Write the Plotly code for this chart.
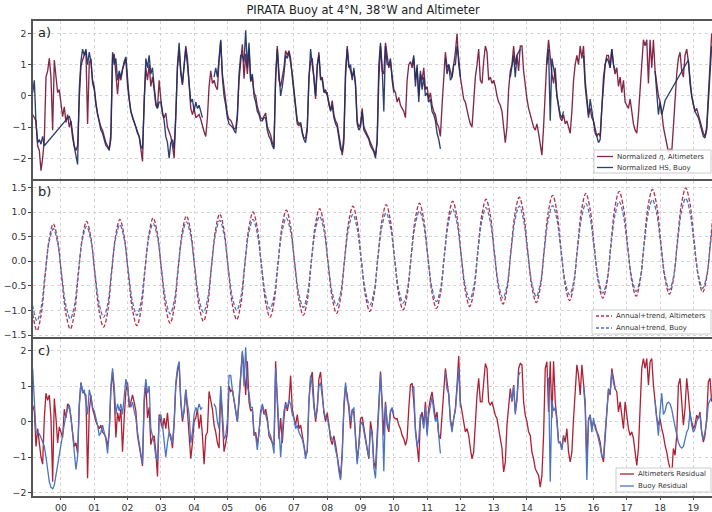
import plotly.graph_objects as go

STEP = 0.05  # sampling step (years) of the values

# ---------------- panel a: normalized series (rows = years 1999..2019; 1999 row starts at .15) -------------
alt_norm = [
    [-0.6, -0.7, -0.8, -1.6, -1.75, -2.4, -2.0, -1.4, 0.6, 0.8, 1.2, 0.6, -1.1, 1.15, 0.7, 0.1, 0.2],
    [-0.2, -0.67, -0.35, -0.85, -0.6, -1.0, -0.8, -1.3, -1.6, -1.75, -1.6, -0.1, 0.95, 1.15, 1.3, 1.45, -0.9, 1.05, 1.2, 0.4],
    [0.2, -0.3, -0.6, -0.8, -1.0, -1.1, -1.3, -1.5, -1.6, -1.7, -1.4, 1.2, 1.35, 0.7, 0.05, 0.7, 0.5, 0.85, 1.0, 1.2],
    [0.3, -0.2, -0.5, -0.7, -0.85, -1.05, -1.15, -1.3, -1.7, -2.1, -0.1, 0.9, 0.5, 1.0, 0.3, 0.6, 0.2, -0.3, -0.4, 0.5],
    [-0.1, -0.6, -0.7, -0.55, -1.0, -1.15, -1.3, -1.6, -2.0, -0.7, 0.9, 1.45, 0.7, 0.35, 1.0, 1.6, 1.2, 0.3, -0.4, -0.6],
    [-0.4, -0.7, -0.65, -0.6, -0.75, -1.0, -1.15, -1.3, -0.7, 0.3, 0.8, 0.4, 0.5, 0.3, 0.2, 1.1, 1.75, 0.7, 0.2, -0.3],
    [-0.6, -0.75, -0.78, -0.9, -1.05, -1.05, -0.6, 0.5, 1.2, 1.65, 0.55, 1.35, 0.7, 1.5, 0.45, 0.6, 0.1, 0.0, -0.35, -0.55],
    [-0.7, -0.75, -0.65, -0.55, -1.0, -1.15, -1.25, -1.5, -1.62, 0.6, 1.6, 0.5, 0.3, 0.6, 0.9, 1.45, 1.3, 1.45, 1.2, 0.6],
    [0.05, -0.45, -0.9, -0.95, -0.9, -1.2, -1.35, -1.35, -1.0, 0.6, 1.1, 1.2, 0.5, -0.1, 0.9, 1.4, 0.5, 0.6, 0.2, 0.1],
    [0.1, -0.3, -0.45, -0.15, -0.6, -0.8, -0.9, -1.2, -1.6, -1.9, -1.5, 0.6, 1.6, 1.0, 0.8, 0.6, 0.8, 0.4, -0.8, -1.0],
    [-0.9, -0.4, -1.0, -1.1, -1.2, -1.35, -1.5, -1.6, -1.75, -1.9, -1.5, 0.5, 1.6, 0.8, 0.7, 1.7, 1.2, 0.9, 1.1, 0.6],
    [0.2, 0.1, -0.2, -0.05, -0.3, -0.4, -0.5, -0.7, 0.5, 1.0, 1.1, 0.9, 1.2, 0.5, 0.9, 0.0, 0.7, 0.5, 0.9, 0.2],
    [0.3, -0.1, 0.1, -0.3, -0.5, -0.6, -0.9, -1.0, -1.3, -0.3, 0.8, 1.4, 0.9, 1.0, 0.8, 0.6, 1.0, 1.4, 2.0, 1.0],
    [0.6, 0.3, -0.1, -0.2, -0.5, -0.7, -0.9, -1.0, -0.2, 0.6, 1.0, 1.5, 0.5, 0.4, 1.1, 1.6, 1.4, 0.5, 0.6, 0.4],
    [0.5, 0.3, 0.0, -0.2, -0.3, -0.5, -1.0, -1.5, -1.0, 0.2, 0.8, 1.0, 1.6, 1.0, 1.3, 0.8, 1.6, 1.6, 0.8, 0.3],
    [-0.1, -0.4, -0.6, -0.8, -1.0, -1.1, -0.9, -1.2, -1.6, -1.9, -1.0, 0.3, 1.2, 1.8, 1.2, 0.7, 0.4, 0.9, 0.0, -0.3],
    [-0.7, -0.8, -0.6, -0.9, -0.8, -1.0, -1.2, -0.5, 0.5, 1.0, 1.3, 1.0, 1.6, 1.2, 1.6, 0.5, -0.1, -0.6, -0.4, -0.7],
    [-0.8, -1.1, -1.3, -1.2, -1.3, -0.4, 0.5, 1.0, 1.3, 1.3, 0.9, 1.5, 1.0, 0.7, 0.9, 0.3, 0.6, 0.1, 0.5, -0.2],
    [-0.3, -0.4, -0.1, -0.5, -0.9, -1.1, -1.2, -0.6, 0.3, 1.0, 1.8, 1.6, 1.8, 0.4, 1.8, 0.9, 1.8, 0.8, 0.3, 0.0],
    [-0.2, -0.5, -1.0, -1.3, -1.5, -1.8, -1.7, -1.8, -1.0, 0.0, 0.7, 1.2, 1.4, 0.8, 0.6, 1.3, 1.5, 1.1, 0.4, 0.0],
    [-0.3, -0.5, -0.4, -0.6, -0.8, -1.0, -1.2, -1.3, -1.0, 0.0, 1.0, 2.0],
]

N = None
buoy_norm = [
    [0.1, 0.5, -0.9, -1.5, -1.4, -1.55, -1.3, -1.6, N, N, N, N, N, N, N, N, N],
    [N, N, N, N, N, -0.65, -0.85, -1.35, -1.65, -1.85, -2.2, 0.2, 1.1, 1.5, 1.3, 1.5, 1.0, 1.4, 1.1, 0.5],
    [0.3, -0.3, -0.6, -0.8, -1.1, -1.2, -1.4, -1.6, -1.65, -1.75, -1.2, 1.4, 1.0, 1.2, 0.5, 0.8, 0.6, 0.9, 1.1, 1.25],
    [0.5, -0.1, -0.5, -0.65, -0.8, -1.0, -1.2, -1.3, -1.6, -1.7, -0.3, 1.2, 0.9, 1.3, 0.7, 0.9, 0.3, -0.2, -0.4, -0.2],
    [-0.2, -0.5, -0.8, -1.3, -1.5, -2.0, -1.5, -1.4, -1.7, -0.6, 1.0, 1.7, 0.8, 0.4, 1.0, 1.5, 1.0, 0.3, -0.2, -0.1],
    [-0.5, -0.2, -0.4, -0.3, -0.5, -0.7, N, N, N, N, N, N, 0.6, 0.9, 0.6, 1.2, 1.8, 0.6, 0.0, -0.3],
    [-0.7, -0.9, -0.95, -1.0, -1.1, -1.2, -0.7, 0.7, 1.3, 1.3, 1.1, 2.1, 0.9, 1.7, 0.5, 0.7, 0.0, -0.2, -0.5, -0.6],
    [-0.8, -0.8, -0.7, -0.7, -1.1, -1.3, -1.4, -1.6, -1.7, 0.6, 1.5, 0.6, 0.0, 0.3, 0.7, 1.3, 1.2, 1.4, 1.1, 0.7],
    [0.2, -0.4, -0.8, -0.9, -0.85, -1.15, -1.4, -1.5, -1.1, 0.5, 1.5, 1.0, 0.6, 0.0, 1.0, 1.3, 0.6, 0.5, 0.1, 0.2],
    [0.0, -0.2, -0.5, -0.3, -0.7, -0.9, -1.0, -1.3, -1.7, -1.8, -1.3, 0.8, 1.5, 0.9, 1.0, 0.5, 0.9, 0.3, -0.9, -1.1],
    [-1.0, -0.5, -1.1, -1.2, -1.3, -1.4, -1.6, -1.7, -1.8, -2.0, -1.4, 1.0, 1.7, 0.9, -0.5, 1.6, 1.0, 1.0, 1.2, 0.5],
    [0.1, N, N, N, N, N, N, N, N, N, N, 1.0, 1.3, 0.3, 1.0, -0.2, 0.8, 0.2, 0.6, 0.0],
    [0.1, -0.2, -0.1, -0.5, -0.6, -0.8, -1.2, -1.4, -1.7, N, N, 1.2, 0.7, 1.0, 0.5, 0.6, 1.0, 1.0, 1.6, 1.2],
    [0.6, N, N, N, N, N, N, N, N, N, N, N, N, N, N, N, N, N, N, N],
    [N, N, N, N, N, N, N, N, N, N, 0.6, 1.0, 1.3, 0.6, 1.3, 1.4, 1.5, N, N, N],
    [N, N, N, N, N, N, N, N, N, N, N, N, 1.0, 1.5, -0.8, 1.2, 0.9, 0.6, 0.0, -0.3],
    [-0.6, -0.7, -0.5, N, N, N, N, N, N, N, N, N, N, N, 1.3, 0.3, -0.2, -0.7, -0.1, -0.5],
    [-0.9, -1.2, -1.3, -1.5, -1.4, -0.5, 0.6, 1.0, 1.2, 1.1, 0.9, 1.5, 1.0, 0.8, N, N, N, N, N, N],
    [N, N, N, N, N, N, N, N, N, N, N, N, N, N, N, N, N, 0.8, 0.1, -0.6],
    [-0.2, -0.6, -0.4, -0.15, N, N, N, N, N, N, N, N, N, N, N, N, N, 1.15, 0.4, 0.0],
    [-0.3, -0.5, -0.6, -0.7, -0.9, -1.1, -1.3, -1.35, -1.1, -0.2, 0.8, 1.6],
]
# spans where the original buoy curve is drawn straight across missing samples
buoy_bridges = [(1999.50, 2000.25), (2018.15, 2018.85)]

# ---------------- panel b: annual + trend fits ----------------
fit_phase = [0.28, 0.405, 0.52, 0.645, 0.77, 0.895, 1.02, 1.15]
fit_first_year = 1998
fit_alt = [
    [N, N, N, N, N, N, -0.35, -1.07],
    [-1.41, -1.09, -0.33, 0.44, 0.76, 0.45, -0.31, -1.07],
    [-1.38, -1.06, -0.29, 0.49, 0.81, 0.50, -0.27, -1.03],
    [-1.34, -1.02, -0.25, 0.53, 0.85, 0.53, -0.23, -0.99],
    [-1.31, -0.99, -0.22, 0.56, 0.88, 0.57, -0.19, -0.95],
    [-1.26, -0.94, -0.17, 0.60, 0.92, 0.61, -0.15, -0.91],
    [-1.22, -0.90, -0.13, 0.64, 0.96, 0.65, -0.12, -0.88],
    [-1.19, -0.87, -0.10, 0.68, 1.00, 0.69, -0.07, -0.83],
    [-1.14, -0.82, -0.05, 0.72, 1.04, 0.73, -0.03, -0.79],
    [-1.10, -0.78, -0.02, 0.75, 1.07, 0.76, 0.00, -0.75],
    [-1.06, -0.74, 0.03, 0.80, 1.12, 0.81, 0.05, -0.71],
    [-1.02, -0.70, 0.07, 0.83, 1.15, 0.84, 0.08, -0.68],
    [-0.99, -0.67, 0.10, 0.86, 1.18, 0.87, 0.11, -0.65],
    [-0.96, -0.64, 0.13, 0.90, 1.22, 0.91, 0.15, -0.61],
    [-0.92, -0.60, 0.17, 0.94, 1.26, 0.95, 0.20, -0.56],
    [-0.87, -0.55, 0.22, 0.98, 1.30, 0.99, 0.23, -0.53],
    [-0.84, -0.52, 0.25, 1.02, 1.34, 1.03, 0.27, -0.49],
    [-0.80, -0.48, 0.29, 1.06, 1.38, 1.07, 0.32, -0.44],
    [-0.75, -0.43, 0.34, 1.10, 1.42, 1.11, 0.36, -0.40],
    [-0.71, -0.39, 0.38, 1.14, 1.46, 1.15, 0.40, -0.36],
    [-0.67, -0.35, 0.41, 1.17, 1.49, 1.18, 0.43, -0.32],
    [-0.63, -0.31, 0.45, 1.21, 1.53],
]
fit_buoy = [
    [N, N, N, N, N, N, -0.29, -0.90],
    [-1.21, -0.94, -0.28, 0.39, 0.66, 0.39, -0.26, -0.90],
    [-1.17, -0.90, -0.23, 0.44, 0.71, 0.44, -0.22, -0.87],
    [-1.14, -0.87, -0.20, 0.47, 0.74, 0.47, -0.18, -0.83],
    [-1.10, -0.83, -0.17, 0.50, 0.77, 0.50, -0.15, -0.80],
    [-1.07, -0.80, -0.14, 0.53, 0.80, 0.53, -0.12, -0.77],
    [-1.04, -0.77, -0.11, 0.56, 0.83, 0.56, -0.09, -0.73],
    [-1.00, -0.73, -0.08, 0.58, 0.85, 0.58, -0.06, -0.70],
    [-0.97, -0.70, -0.05, 0.61, 0.88, 0.62, -0.03, -0.67],
    [-0.94, -0.67, -0.02, 0.64, 0.91, 0.65, 0.00, -0.64],
    [-0.90, -0.63, 0.03, 0.68, 0.95, 0.68, 0.03, -0.62],
    [-0.89, -0.62, 0.05, 0.71, 0.98, 0.71, 0.07, -0.58],
    [-0.85, -0.58, 0.09, 0.75, 1.02, 0.75, 0.10, -0.55],
    [-0.82, -0.55, 0.12, 0.79, 1.06, 0.79, 0.14, -0.51],
    [-0.78, -0.51, 0.16, 0.82, 1.09, 0.82, 0.17, -0.48],
    [-0.75, -0.48, 0.19, 0.85, 1.12, 0.85, 0.20, -0.45],
    [-0.72, -0.45, 0.21, 0.86, 1.13, 0.87, 0.23, -0.42],
    [-0.68, -0.41, 0.25, 0.90, 1.17, 0.90, 0.26, -0.38],
    [-0.65, -0.38, 0.28, 0.94, 1.21, 0.94, 0.30, -0.34],
    [-0.61, -0.34, 0.32, 0.98, 1.25, 0.98, 0.34, -0.31],
    [-0.58, -0.31, 0.35, 1.01, 1.28, 1.01, 0.37, -0.28],
    [-0.55, -0.28, 0.38, 1.04, 1.31],
]

# ---------------- panel c: residuals ----------------
alt_resid = [
    [0.46, 0.3, -0.7, -0.2, -0.6, -1.0, -1.2, 0.1, 0.8, 0.6, 0.75, 0.1, -1.7, 0.65, 0.1, -0.6, -0.15],
    [-0.3, -0.45, 0.35, 0.1, 0.5, 0.45, 0.1, -0.3, -0.7, -0.6, -0.9, 0.5, 1.1, 0.85, 0.8, 0.75, -1.6, 0.3, 0.75, 0.35],
    [0.2, 0.0, -0.1, -0.2, -0.1, -0.3, -0.35, -0.45, -0.7, -0.3, 0.9, 1.4, 0.75, -0.45, 0.25, 0.0, 0.35, -0.85, 0.1, 0.85],
    [1.1, 0.4, 0.55, 0.75, 0.55, 0.3, -0.4, -0.7, -1.05, -1.25, 0.5, 1.1, 0.1, 0.4, -0.65, -0.45, -0.4, -0.85, -1.55, 0.2],
    [0.0, -0.2, 0.1, -0.2, 0.25, -0.3, -0.4, -0.75, -0.1, 1.0, 1.4, 1.65, 0.55, 0.0, 0.3, 0.9, 0.3, -0.4, -1.05, -0.6],
    [0.0, 0.1, 0.35, -0.2, 0.2, -0.4, -1.2, -0.4, -0.3, 0.85, 0.55, 0.35, -0.1, -0.3, -0.6, -0.75, 0.9, -0.2, -0.85, -0.6],
    [-0.3, 1.0, 0.85, 0.9, 0.55, 0.25, 0.0, 0.55, 1.2, 1.95, 1.5, 0.75, 1.7, 0.55, 0.3, 0.35, -0.4, -0.3, -0.65, -0.3],
    [0.3, 0.45, 0.2, 0.35, 0.1, -0.4, -0.5, -0.6, -0.65, 1.7, 0.55, -0.5, 0.1, -0.6, 0.1, 0.55, 0.3, 0.55, 1.3, 0.35],
    [0.1, -0.1, 0.2, -0.2, -0.1, -0.4, -0.65, -0.95, -0.85, 0.55, 1.2, 1.4, 0.55, 0.0, 0.35, 1.2, 1.4, 0.75, 0.25, 0.0],
    [0.25, -0.1, -0.5, -0.65, -0.4, -0.65, -0.95, -1.3, -1.6, -0.85, 0.35, 1.0, 0.75, 0.35, -0.2, 0.35, 0.25, -0.4, -1.1, -0.65],
    [0.08, 0.13, -0.2, -0.39, -0.76, -1.05, 0.0, -0.29, -1.14, -1.33, -0.39, 0.56, 1.41, 0.56, -0.39, 0.56, -0.1, -0.29, 0.27, 0.37],
    [0.13, 0.08, 0.08, -0.1, -0.2, -0.39, -0.48, -0.67, -0.48, 0.37, 1.03, 1.08, 0.56, -0.2, -0.67, -1.14, 0.08, 0.27, -0.1, 0.56],
    [-0.29, 0.37, 0.65, 0.84, 0.46, 0.08, 0.27, -0.39, -0.48, 0.27, 0.84, 1.5, 1.12, 0.75, 0.08, -0.2, 0.08, 0.37, 1.03, 1.85],
    [0.56, 0.27, 0.0, -0.29, -0.2, -0.39, -0.76, -1.05, -0.86, 0.08, 0.75, 1.22, 0.56, 0.56, 1.22, 1.64, 1.5, 0.56, 0.46, 0.56],
    [0.37, 0.18, 0.08, -0.2, -0.39, -0.76, -1.42, -1.14, -0.1, 0.56, 0.93, 0.56, 1.03, 0.27, 0.65, 1.5, 1.64, 1.6, 0.56, 0.18],
    [0.0, -0.29, -0.39, -0.86, -1.05, -1.33, -1.42, -1.52, -1.85, -1.52, -0.39, 1.5, 1.69, 0.27, 1.7, 0.1, 1.7, 0.56, 0.08, -0.58],
    [-0.58, -0.76, -0.39, -0.58, -0.2, -0.86, -1.14, -0.86, 0.08, 1.03, 1.6, 1.31, 0.75, 1.6, 1.03, 0.56, -1.14, 0.08, 0.18, -0.2],
    [0.0, -0.1, -0.29, -0.39, -0.58, -0.95, -1.14, -0.39, 0.37, 0.93, 0.75, 1.5, 1.22, 0.93, 0.84, 0.27, 0.56, 0.08, -0.2, 0.56],
    [0.08, -0.2, -0.39, -0.29, -0.48, -0.95, -1.24, -0.76, 0.56, 1.5, 1.78, 1.5, 1.78, 1.03, 1.69, 1.78, 1.03, 0.56, 0.08, -0.1],
    [0.08, -0.2, -0.39, -0.67, -0.86, -1.14, -1.33, -1.52, -0.76, -0.95, -0.39, 1.03, 1.22, 0.56, -0.1, 0.37, 1.22, 0.75, 0.18, 0.0],
    [-0.2, -0.1, 0.18, 0.08, 0.27, -0.29, -0.58, -0.39, 0.08, 1.12, 1.22, 0.56],
]

buoy_resid = [
    [1.5, 0.6, -0.3, -0.3, -0.35, -0.45, -0.55, -0.7, -1.0, -1.4, -1.7, -1.85, -1.9, -1.8, -1.5, -1.2, -0.9],
    [-0.6, -0.3, -0.05, 0.2, 0.35, 0.45, 0.15, -0.35, -1.0, -1.35, -1.0, 0.4, 1.1, 0.8, 0.9, 0.6, 0.2, 0.9, 0.7, 0.4],
    [0.3, 0.1, -0.1, -0.4, -0.3, -0.1, -0.3, -0.5, -0.9, -0.3, 1.0, 1.5, 1.0, 0.2, 0.5, 0.3, 0.5, 0.2, 0.7, 1.2],
    [1.0, 0.6, 0.4, 0.55, 0.3, 0.1, -0.3, -0.6, -1.0, -1.2, 0.7, 1.2, 0.8, 1.0, -0.2, -0.4, -0.6, -1.0, -1.1, 0.1],
    [0.2, -0.1, -0.5, -1.0, -0.6, -0.3, -0.5, -0.6, 0.0, 1.1, 1.5, 1.7, 0.6, 0.1, 0.3, 0.9, 0.5, 0.2, -0.6, -0.3],
    [0.2, 0.4, 0.3, 0.5, 0.35, 0.4, N, N, N, N, N, N, 0.5, 0.4, 0.0, -0.2, 1.0, 0.2, -0.5, -0.4],
    [0.0, 1.3, 1.3, 0.9, 0.6, 0.2, 0.0, 0.7, 1.3, 2.0, 1.0, 2.1, 1.0, 0.8, 0.4, 0.4, -0.3, -0.4, -0.8, -0.2],
    [0.2, 0.5, 0.3, 0.2, 0.0, -0.3, -0.4, -0.6, -0.9, 1.5, 0.7, -0.2, -1.0, -0.3, 0.3, 0.5, 0.4, 0.6, 0.5, 0.2],
    [0.1, -0.2, -0.1, -0.3, -0.4, -0.5, -0.7, -1.05, -0.8, 0.6, 1.3, 1.0, 0.4, 0.1, 0.4, 1.0, 1.1, 0.6, 0.3, 0.1],
    [0.1, -0.1, -0.4, -0.5, -0.5, -0.8, -1.0, -1.4, -1.65, -1.0, 0.5, 1.1, 0.6, 0.5, 0.0, 0.3, 0.4, -0.5, -1.2, -0.7],
    [-0.1, 0.0, -0.3, -0.5, -0.8, -1.0, -0.2, -0.4, -1.3, -1.6, -0.5, 0.6, 1.35, 0.4, -1.4, 0.5, 0.0, -0.2, 0.3, 0.4],
    [0.2, N, N, N, N, N, N, N, N, N, N, 0.9, 1.0, -0.3, -0.7, -0.5, 0.2, 0.1, -0.2, 0.4],
    [-0.4, 0.2, 0.5, 0.7, 0.3, 0.0, 0.1, -0.5, -0.9, N, N, 1.4, 0.9, 0.8, 0.0, -0.3, 0.1, 0.3, 0.8, 1.5],
    [0.4, N, N, N, N, N, N, N, N, N, N, N, N, N, N, N, N, N, N, N],
    [N, N, N, N, N, N, N, N, N, N, 0.8, 0.6, 1.0, 0.2, 0.6, 1.3, 1.4, N, N, N],
    [N, N, N, N, N, N, N, N, N, N, N, N, 1.3, 1.2, -1.7, 0.6, 0.3, 0.4, 0.0, -0.6],
    [-0.6, -0.8, -0.4, N, N, N, N, N, N, N, N, N, N, N, 1.0, 0.4, -1.65, 0.0, 0.2, -0.3],
    [0.1, -0.2, -0.3, -0.5, -0.7, -1.0, -1.0, -0.3, 0.4, 0.9, 0.8, 1.4, 1.1, 0.9, N, N, N, N, N, N],
    [N, N, N, N, N, N, N, N, N, N, N, N, N, N, N, N, N, 0.6, 0.0, -0.4],
    [0.3, 0.8, 0.2, 0.3, 0.5, 0.55, 0.5, 0.35, 0.1, -0.15, -0.4, -0.6, -0.7, -0.75, -0.7, -0.5, -0.3, -0.2, 0.3, -0.1],
    [-0.3, -0.2, 0.0, 0.1, 0.2, -0.3, -0.5, -0.3, 0.0, 0.5, 0.6, 0.7],
]

years = list(range(2000, 2020))
year_labels = ["%02d" % (y - 2000) for y in years]
XRANGE = [1999.16, 2019.56]

# legend texts per panel
legend_a = ["Normalized <i>η</i>, Altimeters", "Normalized HS, Buoy"]
legend_b = ["Annual+trend, Altimeters", "Annual+trend, Buoy"]
legend_c = ["Altimeters Residual", "Buoy Residual"]


def series(rows):
    xs, ys = [], []
    for k, row in enumerate(rows):
        start = 1999.15 if k == 0 else 1999 + k
        for i, v in enumerate(row):
            xs.append(round(start + STEP * i, 3))
            ys.append(v)
    return xs, ys


def fit_series(rows):
    xs, ys = [], []
    for k, row in enumerate(rows):
        for ph, v in zip(fit_phase, row):
            if v is None:
                continue
            xs.append(round(fit_first_year + k + ph, 3))
            ys.append(v)
    return xs, ys


def bridged(xs, ys, bridges):
    ox, oy = [], []
    for x, y in zip(xs, ys):
        if y is None and any(a < x < b for a, b in bridges):
            continue
        ox.append(x)
        oy.append(y)
    return ox, oy


RED_A = "rgba(120,22,56,0.92)"
BLUE_A = "rgba(28,48,100,0.92)"
RED_B = "#b5304a"
BLUE_B = "#4f72b8"
RED_C = "#b01f33"
BLUE_C = "#4a74c4"

fig = go.Figure()

xa, ya = series(alt_norm)
fig.add_trace(go.Scatter(x=xa, y=ya, mode="lines", line=dict(color=RED_A, width=1.35),
                         name="Normalized η, Altimeters", xaxis="x", yaxis="y"))
xb, yb = bridged(*series(buoy_norm), buoy_bridges)
fig.add_trace(go.Scatter(x=xb, y=yb, mode="lines", line=dict(color=BLUE_A, width=1.35),
                         name="Normalized HS, Buoy", xaxis="x", yaxis="y"))

fx, fy = fit_series(fit_alt)
fig.add_trace(go.Scatter(x=fx, y=fy, mode="lines",
                         line=dict(color=RED_B, width=1.3, dash="4px,2px", shape="spline", smoothing=1.0),
                         name="Annual+trend, Altimeters", xaxis="x2", yaxis="y2"))
gx, gy = fit_series(fit_buoy)
fig.add_trace(go.Scatter(x=gx, y=gy, mode="lines",
                         line=dict(color=BLUE_B, width=1.3, dash="4px,2px", shape="spline", smoothing=1.0),
                         name="Annual+trend, Buoy", xaxis="x2", yaxis="y2"))

xr, yr = series(alt_resid)
fig.add_trace(go.Scatter(x=xr, y=yr, mode="lines", line=dict(color=RED_C, width=1.3),
                         name="Altimeters Residual", xaxis="x3", yaxis="y3"))
xq, yq = series(buoy_resid)
fig.add_trace(go.Scatter(x=xq, y=yq, mode="lines", line=dict(color=BLUE_C, width=1.3),
                         name="Buoy Residual", xaxis="x3", yaxis="y3"))

FONT = "DejaVu Sans"
GRID = dict(showgrid=True, gridcolor="#d4d4d4", griddash="dot", gridwidth=1, zeroline=False,
            showline=True, mirror=True, linecolor="#555555", linewidth=1.6, automargin=False)
TICKF = dict(size=9.3, color="#333")

xcommon = dict(range=XRANGE, tickvals=years, ticktext=year_labels, **GRID)
fig.update_layout(
    xaxis=dict(anchor="y", showticklabels=False, ticks="", **xcommon),
    xaxis2=dict(anchor="y2", matches="x", showticklabels=False, ticks="", **xcommon),
    xaxis3=dict(anchor="y3", matches="x", showticklabels=True, ticks="outside", ticklen=2,
                tickcolor="#444", tickfont=TICKF, **xcommon),
    yaxis=dict(domain=[0.6684, 1.0], anchor="x", range=[-2.65, 2.40], tickvals=[-2, -1, 0, 1, 2],
               ticks="outside", ticklen=3, tickcolor="#444", tickfont=TICKF, **GRID),
    yaxis2=dict(domain=[0.3347, 0.6642], anchor="x2", range=[-1.54, 1.64],
                tickvals=[-1.5, -1.0, -0.5, 0.0, 0.5, 1.0, 1.5], tickformat=".1f",
                ticks="outside", ticklen=3, tickcolor="#444", tickfont=TICKF, **GRID),
    yaxis3=dict(domain=[0.0, 0.3305], anchor="x3", range=[-2.10, 2.33], tickvals=[-2, -1, 0, 1, 2],
                ticks="outside", ticklen=3, tickcolor="#444", tickfont=TICKF, **GRID),
)

# ---- compact matplotlib-style legend boxes (page pixels -> paper fractions) ----
ML, MT, MB, W, H = 33, 21, 16, 712, 512
PW, PH = W - ML, H - MT - MB


def px(x):
    return (x - ML) / PW


def py(y):
    return (H - MB - y) / PH


def add_legend(x0, y0, x1, y1, rows, labels, colors, dashes, line_x0, line_x1, text_x):
    fig.add_shape(type="rect", xref="paper", yref="paper", x0=px(x0), x1=px(x1), y0=py(y1), y1=py(y0),
                  line=dict(color="#cccccc", width=1), fillcolor="rgba(255,255,255,0.85)", layer="above")
    for ry, lab, col, dsh in zip(rows, labels, colors, dashes):
        fig.add_shape(type="line", xref="paper", yref="paper", x0=px(line_x0), x1=px(line_x1),
                      y0=py(ry), y1=py(ry), line=dict(color=col, width=1.3, dash=dsh), layer="above")
        fig.add_annotation(text=lab, xref="paper", yref="paper", x=px(text_x), y=py(ry),
                           xanchor="left", yanchor="middle", showarrow=False, borderpad=0,
                           font=dict(family=FONT, size=7, color="#333"))


add_legend(594, 150, 711, 173, [156.5, 167.5], legend_a, [RED_A, BLUE_A], ["solid", "solid"], 597, 613, 616)
add_legend(592, 310, 711, 334, [316, 328], legend_b, [RED_B, BLUE_B], ["3px,2px", "3px,2px"], 596, 612, 615)
add_legend(616, 468, 711, 492, [474, 486], legend_c, [RED_C, BLUE_C], ["solid", "solid"], 620, 634, 637)

for lab, ytop in [("a)", 1.0), ("b)", 0.6642), ("c)", 0.3305)]:
    fig.add_annotation(text=lab, xref="paper", yref="paper", x=0.004, y=ytop - 0.004,
                       xanchor="left", yanchor="top", showarrow=False,
                       font=dict(family=FONT, size=13, color="#222"))

fig.update_layout(
    width=W, height=H,
    margin=dict(l=ML, r=0, t=MT, b=MB, autoexpand=False),
    paper_bgcolor="white", plot_bgcolor="white",
    font=dict(family=FONT, size=10, color="#333"),
    title=dict(text="PIRATA Buoy at 4°N, 38°W and Altimeter", xref="container", yref="container",
               x=0.51, y=0.981, xanchor="center", yanchor="middle",
               font=dict(family=FONT, size=11.5, color="#222")),
    showlegend=False,
)

# the page body has a default 8px margin; remove it so the figure sits at the window origin
fig.write_html("out.html", config={"displayModeBar": False},
               post_script="document.body.style.margin='0';document.body.style.padding='0';")
